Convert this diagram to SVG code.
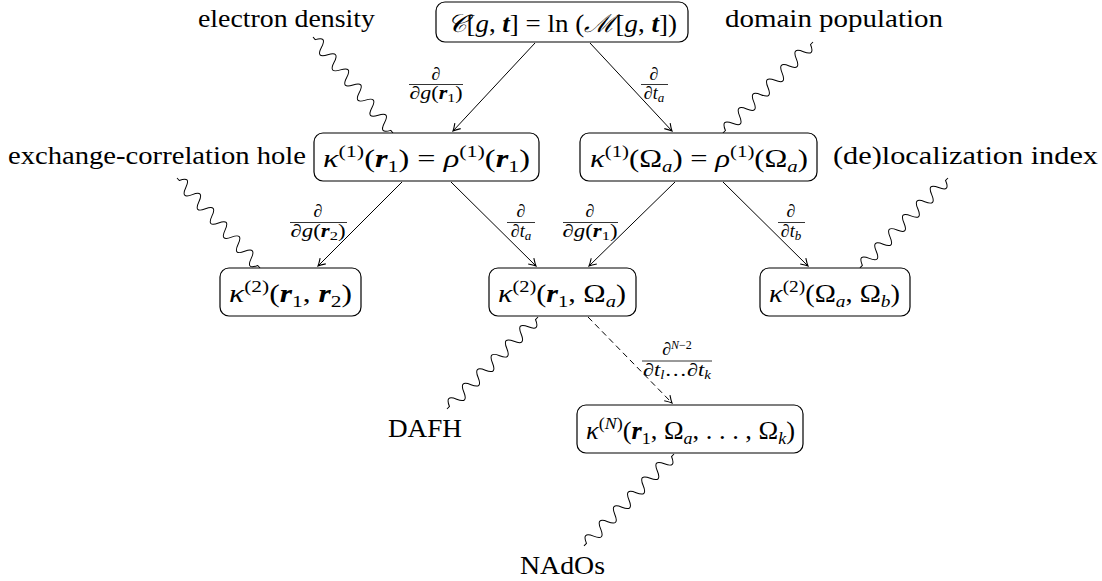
<svg xmlns="http://www.w3.org/2000/svg" xmlns:xlink="http://www.w3.org/1999/xlink" width="1102" height="581" viewBox="0 0 1102 581" font-family="Liberation Serif, DejaVu Serif, serif">
<style>
.box{fill:#fff;stroke:#000;stroke-width:1.2}
.m{font-size:25px}
.lbl{font-size:25px}
.f{font-size:18px}
.i{font-style:italic}
.b{font-style:italic;font-weight:bold}
.edge{stroke:#000;stroke-width:1;fill:none;marker-end:url(#arr)}
.dash{stroke-dasharray:6 4}
.bar{stroke:#000;stroke-width:0.8}
</style>
<defs>
<marker id="arr" viewBox="-8 -5 10 10" refX="0" refY="0" markerWidth="10" markerHeight="10" markerUnits="userSpaceOnUse" orient="auto">
<path d="M-7,-4 Q-2.5,-1 0,0 Q-2.5,1 -7,4" fill="none" stroke="#000" stroke-width="1.1"/>
</marker>
<path id="snake" d="M0,0 L3.5,0 Q8.5,-12 13.5,0 T23.5,0 T33.5,0 T43.5,0 T53.5,0 T63.5,0 T73.5,0 T83.5,0 T93.5,0 T103.5,0 T113.5,0 T123.5,0 L127,0" fill="none" stroke="#000" stroke-width="1"/>
</defs>
<rect width="1102" height="581" fill="#fff"/>

<g id="connectors">
<line class="edge" x1="535" y1="43" x2="453" y2="131"/>
<line class="edge" x1="590" y1="43" x2="672" y2="131"/>
<line class="edge" x1="402" y1="182" x2="318" y2="266"/>
<line class="edge" x1="451" y1="182" x2="536" y2="266"/>
<line class="edge" x1="675" y1="182" x2="589" y2="266"/>
<line class="edge" x1="723" y1="182" x2="808" y2="266"/>
<line class="edge dash" x1="588" y1="317" x2="672" y2="403"/>
<use xlink:href="#snake" href="#snake" transform="translate(313,37) rotate(50.2) scale(0.984,1)"/>
<use xlink:href="#snake" href="#snake" transform="translate(813,42) rotate(134.7) scale(1.008,1)"/>
<use xlink:href="#snake" href="#snake" transform="translate(177,178) rotate(47.3) scale(0.964,1)"/>
<use xlink:href="#snake" href="#snake" transform="translate(948,178) rotate(134.4) scale(0.991,1)"/>
<use xlink:href="#snake" href="#snake" transform="translate(538,317) rotate(134.7) scale(1.019,1)"/>
<use xlink:href="#snake" href="#snake" transform="translate(674,454) rotate(134.4) scale(1.013,1)"/>
</g>

<g id="edge-labels">
<g id="el1"><text class="f" x="436" y="80" text-anchor="middle">∂</text><line class="bar" x1="409" y1="84.5" x2="463" y2="84.5"/><text class="f" x="436" y="99" text-anchor="middle" textLength="53" lengthAdjust="spacingAndGlyphs">∂<tspan class="i">g</tspan>(<tspan class="b">r</tspan><tspan font-size="13" dy="3">1</tspan><tspan dy="-3">)</tspan></text></g>
<g id="el2"><text class="f" x="654" y="80" text-anchor="middle">∂</text><line class="bar" x1="641" y1="84.5" x2="668" y2="84.5"/><text class="f" x="654" y="99" text-anchor="middle">∂<tspan class="i">t</tspan><tspan class="i" font-size="13" dy="3">a</tspan></text></g>
<g id="el3"><text class="f" x="318" y="217" text-anchor="middle">∂</text><line class="bar" x1="290" y1="222.5" x2="347" y2="222.5"/><text class="f" x="318" y="237" text-anchor="middle" textLength="55" lengthAdjust="spacingAndGlyphs">∂<tspan class="i">g</tspan>(<tspan class="b">r</tspan><tspan font-size="13" dy="3">2</tspan><tspan dy="-3">)</tspan></text></g>
<g id="el4"><text class="f" x="521" y="217" text-anchor="middle">∂</text><line class="bar" x1="507" y1="222.5" x2="535" y2="222.5"/><text class="f" x="521" y="237" text-anchor="middle">∂<tspan class="i">t</tspan><tspan class="i" font-size="13" dy="3">a</tspan></text></g>
<g id="el5"><text class="f" x="590" y="217" text-anchor="middle">∂</text><line class="bar" x1="563" y1="222.5" x2="618" y2="222.5"/><text class="f" x="590" y="237" text-anchor="middle" textLength="55" lengthAdjust="spacingAndGlyphs">∂<tspan class="i">g</tspan>(<tspan class="b">r</tspan><tspan font-size="13" dy="3">1</tspan><tspan dy="-3">)</tspan></text></g>
<g id="el6"><text class="f" x="791" y="217" text-anchor="middle">∂</text><line class="bar" x1="778" y1="222.5" x2="805" y2="222.5"/><text class="f" x="791" y="237" text-anchor="middle">∂<tspan class="i">t</tspan><tspan class="i" font-size="13" dy="3">b</tspan></text></g>
<g id="el7"><text class="f" x="677" y="355" text-anchor="middle">∂<tspan font-size="12" dy="-6"><tspan class="i">N</tspan>−2</tspan></text><line class="bar" x1="642" y1="361" x2="712" y2="361"/><text class="f" x="677" y="376" text-anchor="middle" textLength="68" lengthAdjust="spacingAndGlyphs">∂<tspan class="i">t</tspan><tspan class="i" font-size="12" dy="3">l</tspan><tspan dy="-3">…∂</tspan><tspan class="i">t</tspan><tspan class="i" font-size="12" dy="3">k</tspan></text></g>
</g>

<g id="n1"><rect class="box" x="436" y="2" width="252" height="40" rx="9"/>
<text class="m" x="562" y="32" text-anchor="middle" textLength="230" lengthAdjust="spacingAndGlyphs"><tspan class="i">𝒞</tspan>[<tspan class="i">g</tspan>, <tspan class="b">t</tspan>] = ln (<tspan class="i">ℳ</tspan>[<tspan class="i">g</tspan>, <tspan class="b">t</tspan>])</text></g>

<g id="n2"><rect class="box" x="314" y="133" width="225" height="48" rx="9"/>
<text class="m" x="426.5" y="167" text-anchor="middle" textLength="207" lengthAdjust="spacingAndGlyphs"><tspan class="i">κ</tspan><tspan font-size="17" dy="-10">(1)</tspan><tspan dy="10">(</tspan><tspan class="b">r</tspan><tspan font-size="17" dy="5">1</tspan><tspan dy="-5">) = </tspan><tspan class="i">ρ</tspan><tspan font-size="17" dy="-10">(1)</tspan><tspan dy="10">(</tspan><tspan class="b">r</tspan><tspan font-size="17" dy="5">1</tspan><tspan dy="-5">)</tspan></text></g>

<g id="n3"><rect class="box" x="580" y="133" width="237" height="48" rx="9"/>
<text class="m" x="699" y="167" text-anchor="middle" textLength="218" lengthAdjust="spacingAndGlyphs"><tspan class="i">κ</tspan><tspan font-size="17" dy="-10">(1)</tspan><tspan dy="10">(Ω</tspan><tspan class="i" font-size="17" dy="5">a</tspan><tspan dy="-5">) = </tspan><tspan class="i">ρ</tspan><tspan font-size="17" dy="-10">(1)</tspan><tspan dy="10">(Ω</tspan><tspan class="i" font-size="17" dy="5">a</tspan><tspan dy="-5">)</tspan></text></g>

<g id="n4"><rect class="box" x="220" y="268" width="141" height="48" rx="9"/>
<text class="m" x="290.5" y="302" text-anchor="middle" textLength="123" lengthAdjust="spacingAndGlyphs"><tspan class="i">κ</tspan><tspan font-size="17" dy="-10">(2)</tspan><tspan dy="10">(</tspan><tspan class="b">r</tspan><tspan font-size="17" dy="5">1</tspan><tspan dy="-5">, </tspan><tspan class="b">r</tspan><tspan font-size="17" dy="5">2</tspan><tspan dy="-5">)</tspan></text></g>

<g id="n5"><rect class="box" x="489" y="268" width="147" height="48" rx="9"/>
<text class="m" x="562" y="302" text-anchor="middle" textLength="128" lengthAdjust="spacingAndGlyphs"><tspan class="i">κ</tspan><tspan font-size="17" dy="-10">(2)</tspan><tspan dy="10">(</tspan><tspan class="b">r</tspan><tspan font-size="17" dy="5">1</tspan><tspan dy="-5">, Ω</tspan><tspan class="i" font-size="17" dy="5">a</tspan><tspan dy="-5">)</tspan></text></g>

<g id="n6"><rect class="box" x="760" y="268" width="150" height="48" rx="9"/>
<text class="m" x="834.5" y="302" text-anchor="middle" textLength="131" lengthAdjust="spacingAndGlyphs"><tspan class="i">κ</tspan><tspan font-size="17" dy="-10">(2)</tspan><tspan dy="10">(Ω</tspan><tspan class="i" font-size="17" dy="5">a</tspan><tspan dy="-5">, Ω</tspan><tspan class="i" font-size="17" dy="5">b</tspan><tspan dy="-5">)</tspan></text></g>

<g id="n7"><rect class="box" x="577" y="405" width="226" height="48" rx="9"/>
<text class="m" x="690.5" y="439" text-anchor="middle" textLength="209" lengthAdjust="spacingAndGlyphs"><tspan class="i">κ</tspan><tspan font-size="17" dy="-10">(<tspan class="i">N</tspan>)</tspan><tspan dy="10">(</tspan><tspan class="b">r</tspan><tspan font-size="17" dy="5">1</tspan><tspan dy="-5">, Ω</tspan><tspan class="i" font-size="17" dy="5">a</tspan><tspan dy="-5">, . . . , Ω</tspan><tspan class="i" font-size="17" dy="5">k</tspan><tspan dy="-5">)</tspan></text></g>

<g id="lbl-ed"><text class="lbl" x="286.5" y="27" text-anchor="middle" textLength="177" lengthAdjust="spacingAndGlyphs">electron density</text></g>
<g id="lbl-dp"><text class="lbl" x="834" y="27" text-anchor="middle" textLength="218" lengthAdjust="spacingAndGlyphs">domain population</text></g>
<g id="lbl-xc"><text class="lbl" x="157" y="164" text-anchor="middle" textLength="298" lengthAdjust="spacingAndGlyphs">exchange-correlation hole</text></g>
<g id="lbl-dl"><text class="lbl" x="965.5" y="164" text-anchor="middle" textLength="265" lengthAdjust="spacingAndGlyphs">(de)localization index</text></g>
<g id="lbl-dafh"><text class="lbl" x="425" y="437" text-anchor="middle" textLength="74" lengthAdjust="spacingAndGlyphs">DAFH</text></g>
<g id="lbl-nados"><text class="lbl" x="562.5" y="574" text-anchor="middle" textLength="85" lengthAdjust="spacingAndGlyphs">NAdOs</text></g>
</svg>
